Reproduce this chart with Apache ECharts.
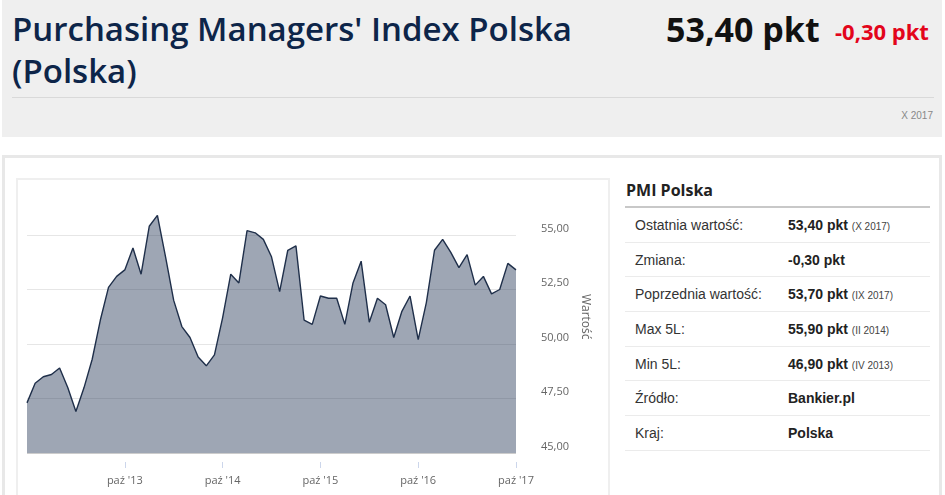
<!DOCTYPE html>
<html>
<head>
<meta charset="utf-8">
<script src="https://cdn.jsdelivr.net/npm/echarts@6/dist/echarts.min.js"></script>
<style>
html,body{margin:0;padding:0;width:945px;height:495px;overflow:hidden;background:#fff;font-family:"Open Sans",sans-serif;}
.abs{position:absolute;}
#hdr{left:2px;top:0;width:940px;height:137px;background:#efefef;}
#title{left:12px;top:0px;margin:0;font-family:"Open Sans",sans-serif;font-weight:600;font-size:33px;line-height:42px;color:#0d2549;padding-top:8px;white-space:nowrap;}
#val{left:666px;top:7px;font-weight:700;font-size:34px;line-height:44px;color:#111;white-space:nowrap;}
#chg{left:835px;top:15px;font-weight:700;font-size:22px;line-height:32px;color:#e3051b;white-space:nowrap;}
#sep{left:12px;top:97px;width:922px;height:1px;background:#d9d9d9;}
#date{right:12px;top:110px;font-family:"Liberation Sans",Arial,sans-serif;font-size:10px;color:#888;}
#panel{left:2px;top:155px;width:934px;height:345px;border:3px solid #e8e8e8;}
#cbox{left:16px;top:178px;width:590px;height:330px;border:2px solid #efefef;}
#chart{left:16px;top:178px;width:594px;height:317px;}
#ptitle{left:626px;top:178px;font-weight:700;font-size:16px;line-height:24px;color:#222;}
#pline{left:625px;top:206px;width:305px;height:2px;background:#c8c8c8;}
#tbl{left:625px;top:208px;width:305px;border-collapse:collapse;font-family:"Liberation Sans",Arial,sans-serif;font-size:14px;}
#tbl td{height:33.7px;border-bottom:1px solid #ebebeb;padding:0;}
#tbl td.l{padding-left:10px;color:#333;width:153px;}
#tbl td.v{font-weight:700;color:#222;}
#tbl small{font-weight:400;font-size:10px;color:#444;}
</style>
</head>
<body>
<div id="hdr" class="abs"></div>
<h1 id="title" class="abs">Purchasing Managers' Index Polska<br>(Polska)</h1>
<div id="val" class="abs">53,40 pkt</div>
<div id="chg" class="abs">-0,30 pkt</div>
<div id="sep" class="abs"></div>
<div id="date" class="abs">X 2017</div>
<div id="panel" class="abs"></div>
<div id="cbox" class="abs"></div>
<div id="chart" class="abs"></div>
<div id="ptitle" class="abs">PMI Polska</div>
<div id="pline" class="abs"></div>
<table id="tbl" class="abs">
<tr><td class="l">Ostatnia wartość:</td><td class="v">53,40 pkt <small>(X 2017)</small></td></tr>
<tr><td class="l">Zmiana:</td><td class="v">-0,30 pkt</td></tr>
<tr><td class="l">Poprzednia wartość:</td><td class="v">53,70 pkt <small>(IX 2017)</small></td></tr>
<tr><td class="l">Max 5L:</td><td class="v">55,90 pkt <small>(II 2014)</small></td></tr>
<tr><td class="l">Min 5L:</td><td class="v">46,90 pkt <small>(IV 2013)</small></td></tr>
<tr><td class="l">Źródło:</td><td class="v">Bankier.pl</td></tr>
<tr><td class="l">Kraj:</td><td class="v">Polska</td></tr>
</table>
<script>
// Months Oct 2012 .. Oct 2017
const monthNames = ['sty','lut','mar','kwi','maj','cze','lip','sie','wrz','paź','lis','gru'];
const startYear = 2012, startMonth = 9; // October (0-based)
const values = [
  47.3, 48.2, 48.5,
  48.6, 48.9, 48.0, 46.9, 48.0, 49.3, 51.1, 52.6, 53.1, 53.4, 54.4, 53.2,
  55.4, 55.9, 54.0, 52.0, 50.8, 50.3, 49.4, 49.0, 49.5, 51.2, 53.2, 52.8,
  55.2, 55.1, 54.8, 54.0, 52.4, 54.3, 54.5, 51.1, 50.9, 52.2, 52.1, 52.1,
  50.9, 52.8, 53.8, 51.0, 52.1, 51.8, 50.3, 51.5, 52.2, 50.2, 51.9, 54.3,
  54.8, 54.2, 53.5, 54.1, 52.7, 53.1, 52.3, 52.5, 53.7, 53.4
];
const categories = values.map((v, i) => {
  const m = (startMonth + i) % 12;
  const y = startYear + Math.floor((startMonth + i) / 12);
  return monthNames[m] + " '" + String(y).slice(2);
});
const yMin = 45, yMax = 57.5, yStep = 2.5;

const chart = echarts.init(document.getElementById('chart'), null, {renderer: 'canvas'});
const showIdx = (i) => i > 0 && i % 12 === 0;
chart.setOption({
  animation: false,
  grid: {left: 11, right: 94, top: 2.5, bottom: 42, containLabel: false},
  xAxis: {
    type: 'category',
    data: categories,
    boundaryGap: false,
    offset: 9,
    axisLine: {show: false},
    axisTick: {show: true, length: 6, interval: (i) => showIdx(i), lineStyle: {color: '#ccd6eb', width: 1}},
    axisLabel: {interval: (i) => showIdx(i), margin: 13, color: '#666', fontSize: 11, fontFamily: 'Open Sans'},
    splitLine: {show: false}
  },
  yAxis: {
    type: 'value',
    position: 'right',
    min: yMin, max: yMax, interval: yStep,
    name: 'Wartość',
    nameLocation: 'middle',
    nameRotate: -90,
    nameGap: 59,
    nameTextStyle: {color: '#666', fontSize: 12, fontFamily: 'Open Sans'},
    axisLine: {show: false},
    axisTick: {show: false},
    axisLabel: {
      margin: 25, color: '#666', fontSize: 11, fontFamily: 'Open Sans',
      verticalAlign: 'bottom', lineHeight: 13,
      formatter: (v) => v >= yMax ? '' : v.toFixed(2).replace('.', ',')
    },
    splitLine: {show: true, lineStyle: {color: ['#cccccc', '#e6e6e6', '#e6e6e6', '#e6e6e6', '#e6e6e6', 'rgba(0,0,0,0)'], width: 1}}
  },
  series: [{
    type: 'line',
    data: values,
    symbol: 'none',
    lineStyle: {color: '#1f2f4a', width: 1.4},
    areaStyle: {color: '#2b3e5c', opacity: 0.46, origin: 'start'}
  }]
});
</script>
</body>
</html>
